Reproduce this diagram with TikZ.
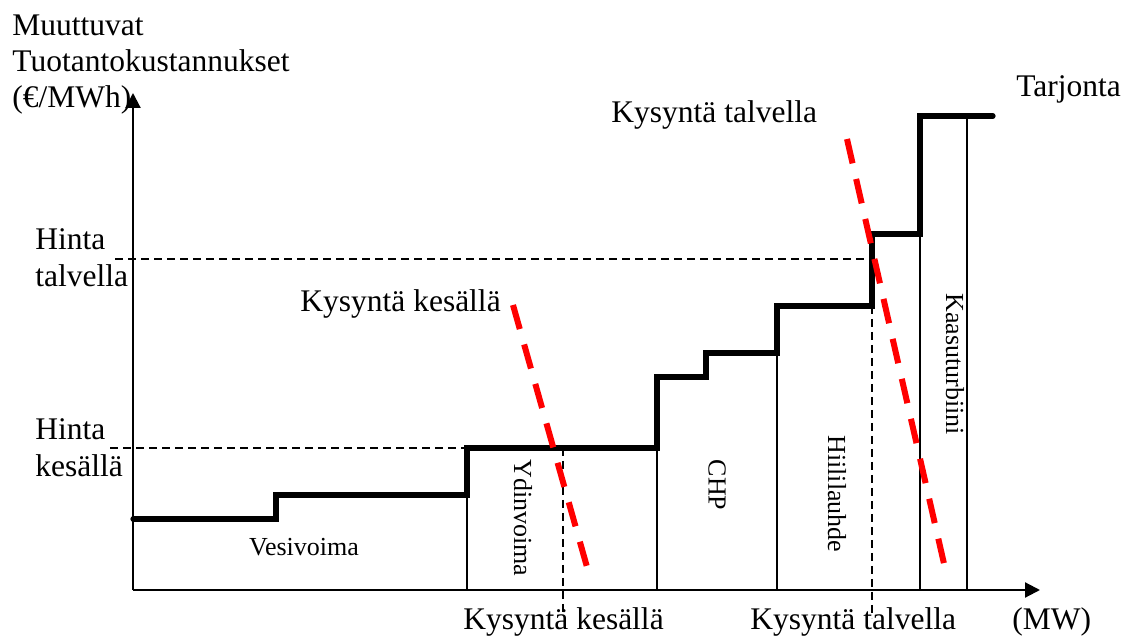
\documentclass[tikz,border=0pt]{standalone}
\usepackage{fontspec}
\setmainfont{Liberation Serif}
\usetikzlibrary{arrows.meta}
\begin{document}
\begin{tikzpicture}[x=0.5pt,y=-0.5pt,
  big/.style={font=\fontsize{15.75}{18}\selectfont, inner sep=0, anchor=base west},
  small/.style={font=\fontsize{13}{15}\selectfont, inner sep=0},
  axisline/.style={line width=1.1pt, -{Triangle[length=7.5pt,width=7.5pt]}},
  thinline/.style={line width=0.9pt},
  supply/.style={line width=2.6pt, line cap=round},
  guide/.style={line width=0.9pt, dash pattern=on 4pt off 2.5pt},
  demand/.style={line width=3pt, draw=red, dash pattern=on 12.5pt off 8pt}]
\useasboundingbox (0,0) rectangle (1126,636);

% axes
\coordinate (O) at (133,590);
\coordinate (ytip) at (133,93);
\coordinate (xtip) at (1040,590);
\draw[axisline] (O) -- (ytip);
\draw[axisline] (O) -- (xtip);

% thin block separators
\draw[thinline] (467,448) -- (467,590);
\draw[thinline] (657,448) -- (657,590);
\draw[thinline] (777,353) -- (777,590);
\draw[thinline] (920,234) -- (920,590);
\draw[thinline] (967,116) -- (967,590);

% guides
\draw[guide] (110,448) -- (467,448);
\draw[guide] (115,259) -- (872,259);
\draw[guide] (563,448) -- (563,614);
\draw[guide] (872,306) -- (872,618);

% supply curve
\draw[supply] (133,519) -- (276,519) -- (276,495) -- (467,495) -- (467,448)
  -- (657,448) -- (657,377) -- (706,377) -- (706,353) -- (777,353) -- (777,306)
  -- (872,306) -- (872,234) -- (920,234) -- (920,116) -- (993,116);

% demand lines
\draw[demand] (513,305) -- (587,567);
\draw[demand] (847,139) -- (945,568);

% axis labels
\node[big] (l1) at (12,36) {Muuttuvat};
\node[big] (l2) at (12,72) {Tuotantokustannukset};
\node[big] (l3) at (12,108) {(€/MWh)};
\node[big] (mw) at (1012,629) {(MW)};

% price labels
\node[big] (ht1) at (35,250) {Hinta};
\node[big] (ht2) at (35,287) {talvella};
\node[big] (hk1) at (35,440) {Hinta};
\node[big] (hk2) at (35,477) {kesällä};

% demand labels
\node[big] (kk) at (300,312) {Kysyntä kesällä};
\node[big] (kt) at (611,123) {Kysyntä talvella};
\node[big] (tarj) at (1016,97) {Tarjonta};
\node[big] (kkb) at (463,629) {Kysyntä kesällä};
\node[big] (ktb) at (750,629) {Kysyntä talvella};

% block labels
\node[small, anchor=base] (vesi) at (304,555) {Vesivoima};
\node[small, rotate=-90] (ydin) at (523,518) {Ydinvoima};
\node[small, rotate=-90] (chp) at (717,485) {CHP};
\node[small, rotate=-90] (hiili) at (837,494) {Hiililauhde};
\node[small, rotate=-90] (kaasu) at (955,364) {Kaasuturbiini};
\end{tikzpicture}
\end{document}
